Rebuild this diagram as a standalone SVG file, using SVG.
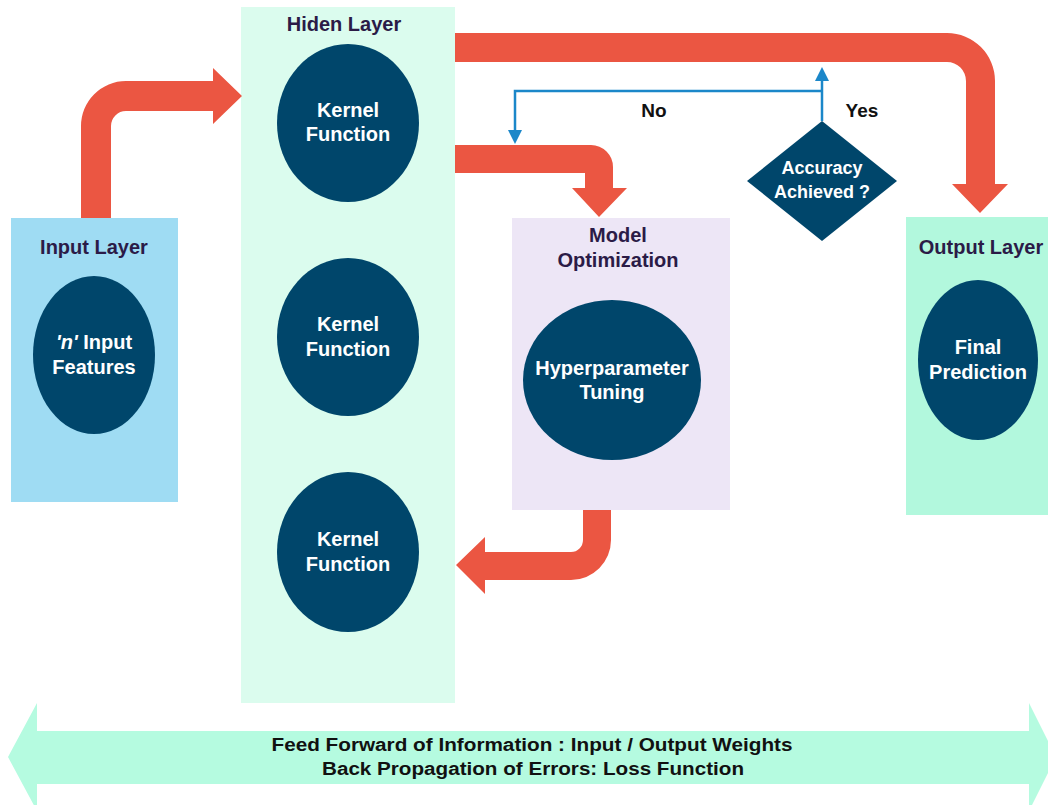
<svg xmlns="http://www.w3.org/2000/svg" width="1048" height="805" viewBox="0 0 1048 805">
<defs>
<style>
.t{font-family:"Liberation Sans",Arial,sans-serif;font-weight:bold;text-anchor:middle}
.title{font-size:20px;fill:#2b1b47}
.w{font-size:20px;fill:#ffffff}
.dk{fill:#00466b}
.red{fill:#eb5642}
.blue{fill:none;stroke:#1b87c9;stroke-width:2.5}
.lbl{font-size:19px;fill:#111111}
.bt{font-family:"Liberation Sans Narrow","Liberation Sans",Arial,sans-serif;font-weight:bold;text-anchor:middle;font-size:18px;fill:#111111}
</style>
<marker id="ah" viewBox="0 0 14 14" refX="0" refY="7" markerWidth="14" markerHeight="14" markerUnits="userSpaceOnUse" orient="auto">
<path d="M0,0 L14,7 L0,14 Z" fill="#1b87c9"/>
</marker>
</defs>
<rect width="1048" height="805" fill="#ffffff"/>

<g id="bottom-band">
<path d="M8,757 L37,703 L37,731 L1029,731 L1029,703 L1056,757 L1029,811 L1029,784 L37,784 L37,811 Z" fill="#b5fbe0"/>
<text class="bt" x="532" y="751" textLength="521" lengthAdjust="spacingAndGlyphs">Feed Forward of Information : Input / Output Weights</text>
<text class="bt" x="533" y="775" textLength="422" lengthAdjust="spacingAndGlyphs">Back Propagation of Errors: Loss Function</text>
</g>

<g id="hidden-layer">
<rect x="241" y="7" width="214" height="696" fill="#dbfcee"/>
<text class="t title" x="344" y="31">Hiden Layer</text>
</g>

<g id="input-layer">
<rect x="11" y="218" width="167" height="284" fill="#9fdcf3"/>
<text class="t title" x="94" y="254">Input Layer</text>
</g>

<g id="model-optimization">
<rect x="512" y="218" width="218" height="292" fill="#ede6f6"/>
<text class="t title" x="618" y="242">Model</text>
<text class="t title" x="618" y="267">Optimization</text>
</g>

<g id="output-layer">
<rect x="906" y="217" width="142" height="298" fill="#b2f8dd"/>
<text class="t title" x="981" y="254">Output Layer</text>
</g>

<g id="input-features">
<ellipse class="dk" cx="94" cy="355" rx="61" ry="79"/>
<text class="t w" x="94" y="349"><tspan font-style="italic">'n'</tspan> Input</text>
<text class="t w" x="94" y="374">Features</text>
</g>

<g id="kernel-1">
<ellipse class="dk" cx="348" cy="123" rx="71" ry="79"/>
<text class="t w" x="348" y="117">Kernel</text>
<text class="t w" x="348" y="141">Function</text>
</g>

<g id="kernel-2">
<ellipse class="dk" cx="348" cy="337" rx="71" ry="79"/>
<text class="t w" x="348" y="331">Kernel</text>
<text class="t w" x="348" y="356">Function</text>
</g>

<g id="kernel-3">
<ellipse class="dk" cx="348" cy="552" rx="71" ry="80"/>
<text class="t w" x="348" y="546">Kernel</text>
<text class="t w" x="348" y="571">Function</text>
</g>

<g id="hyperparameter-tuning">
<ellipse class="dk" cx="612" cy="380" rx="89" ry="80"/>
<text class="t w" x="612" y="375">Hyperparameter</text>
<text class="t w" x="612" y="399">Tuning</text>
</g>

<g id="final-prediction">
<ellipse class="dk" cx="978" cy="360" rx="60" ry="80"/>
<text class="t w" x="978" y="354">Final</text>
<text class="t w" x="978" y="379">Prediction</text>
</g>

<g id="accuracy-decision">
<polygon class="dk" points="822,121 897,181 822,241 747,181"/>
<text class="t w" style="font-size:18px" x="822" y="174">Accuracy</text>
<text class="t w" style="font-size:18px" x="822" y="198">Achieved ?</text>
</g>

<g id="connectors">
<path class="red" d="M81,218 L81,126 A45,45 0 0 1 126,81 L213,81 L213,68 L242,96 L213,124 L213,111 L126,111 A15,15 0 0 0 111,126 L111,218 Z"/>
<path class="red" d="M455,33 L947,33 A48,48 0 0 1 995,81 L995,184 L1008,184 L980,213 L952,184 L966,184 L966,81 A19,19 0 0 0 947,62 L455,62 Z"/>
<path class="red" d="M455,145 L591,145 A22,22 0 0 1 613,167 L613,188 L627,188 L599,217 L572,188 L585,188 L585,173 L455,173 Z"/>
<path class="red" d="M583,510 L611,510 L611,540 A40,40 0 0 1 571,580 L485,580 L485,594 L456,565 L485,537 L485,552 L571,552 A12,12 0 0 0 583,540 Z"/>
<path class="blue" d="M822,121 L822,81" marker-end="url(#ah)"/>
<path class="blue" d="M822,91 L515,91 L515,130" marker-end="url(#ah)"/>
<text class="t lbl" x="654" y="117">No</text>
<text class="t lbl" x="862" y="117">Yes</text>
</g>
</svg>
